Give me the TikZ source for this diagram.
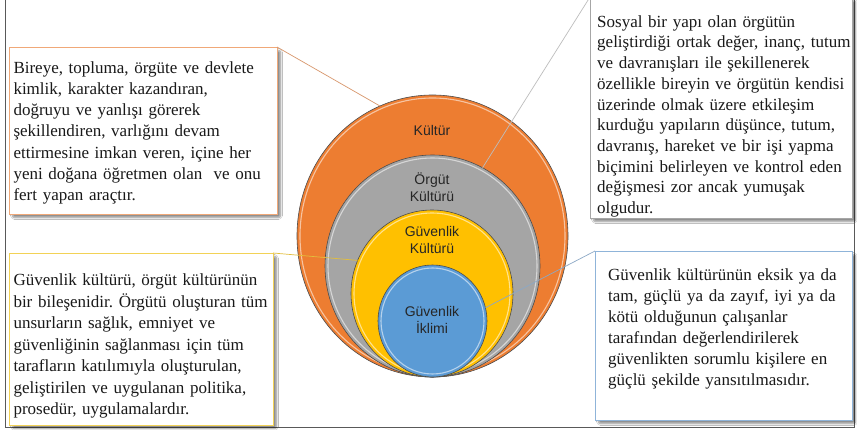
\documentclass[tikz,border=0pt]{standalone}
\usepackage{fontspec}
\setmainfont{Liberation Serif}
\newfontfamily\labelfont{Liberation Sans}
\usetikzlibrary{shapes.geometric,shadows.blur}

\definecolor{ringOrange}{HTML}{ED7D31}
\definecolor{ringGray}{HTML}{A5A5A5}
\definecolor{ringYellow}{HTML}{FFC000}
\definecolor{ringBlue}{HTML}{5B9BD5}
\definecolor{edgeOrange}{HTML}{F0A878}
\definecolor{edgeGray}{HTML}{A6A6A6}
\definecolor{edgeYellow}{HTML}{F2D256}
\definecolor{edgeBlue}{HTML}{8FB4D9}
\definecolor{leadOrange}{HTML}{D8976C}
\definecolor{leadGray}{HTML}{BDBDBD}
\definecolor{leadYellow}{HTML}{E3BE3C}
\definecolor{leadBlue}{HTML}{8CA8C6}
\definecolor{frameGray}{HTML}{595959}
\definecolor{labelInk}{HTML}{262626}

\frenchspacing

\tikzset{
  ring/.style={ellipse, inner sep=0pt, outer sep=0pt, draw=black!70, line width=0.6pt},
  bevel/.style={draw=white, opacity=0.55, line width=1.1pt},
  ringlabel/.style={align=center, text=labelInk, inner sep=0pt,
    font=\labelfont\fontsize{14}{16.5}\selectfont},
  callout/.style={rectangle, fill=white, line width=0.8pt, inner sep=0pt, outer sep=0pt,
    anchor=north west,
    blur shadow={shadow xshift=3.5pt, shadow yshift=-3.5pt, shadow blur steps=8,
      shadow blur extra rounding=2pt, shadow opacity=45}},
  bodytext/.style={anchor=base west, inner sep=0pt, text=black!90, align=left,
    text width=300pt, font=\rmfamily\fontsize{17}{#1}\selectfont},
  leader/.style={line width=0.7pt},
  frame/.style={draw=frameGray, line width=1pt}
}

\begin{document}
\begin{tikzpicture}[x=1pt,y=-1pt]
\useasboundingbox (0,0) rectangle (857,430);
\fill[white] (0,0) rectangle (857,430);

% outer frame (left, bottom, right)
\draw[frame] (5,0) -- (5,427) -- (854,427) -- (854,0);

% text boxes
\node[callout, draw=edgeOrange, minimum width=268pt, minimum height=167pt] (boxKultur) at (9,47) {};
\node[callout, draw=edgeGray, minimum width=262pt, minimum height=221pt] (boxOrgut) at (590,-3) {};
\node[callout, draw=edgeYellow, minimum width=264pt, minimum height=172pt] (boxGuvenlik) at (9,253) {};
\node[callout, draw=edgeBlue, minimum width=257pt, minimum height=169pt] (boxIklim) at (595,251) {};

\node[bodytext=21.2] (txtKultur) at (13.3,73.3) {%
Bireye, topluma, örgüte ve devlete\\
kimlik, karakter kazandıran,\\
doğruyu ve yanlışı görerek\\
şekillendiren, varlığını devam\\
ettirmesine imkan veren, içine her\\
yeni doğana öğretmen olan~ ve onu\\
fert yapan araçtır.};

\node[bodytext=20.7] (txtOrgut) at (597,27.3) {%
Sosyal bir yapı olan örgütün\\
geliştirdiği ortak değer, inanç, tutum\\
ve davranışları ile şekillenerek\\
özellikle bireyin ve örgütün kendisi\\
üzerinde olmak üzere etkileşim\\
kurduğu yapıların düşünce, tutum,\\
davranış, hareket ve bir işi yapma\\
biçimini belirleyen ve kontrol eden\\
değişmesi zor ancak yumuşak\\
olgudur.};

\node[bodytext=21.5] (txtGuvenlik) at (13.3,286) {%
Güvenlik kültürü, örgüt kültürünün\\
bir bileşenidir. Örgütü oluşturan tüm\\
unsurların sağlık, emniyet ve\\
güvenliğinin sağlanması için tüm\\
tarafların katılımıyla oluşturulan,\\
geliştirilen ve uygulanan politika,\\
prosedür, uygulamalardır.};

\node[bodytext=20.9] (txtIklim) at (608,280.7) {%
Güvenlik kültürünün eksik ya da\\
tam, güçlü ya da zayıf, iyi ya da\\
kötü olduğunun çalışanlar\\
tarafından değerlendirilerek\\
güvenlikten sorumlu kişilere en\\
güçlü şekilde yansıtılmasıdır.};

% nested circles, all touching at the bottom
\node[ring, fill=ringOrange, minimum width=271pt, minimum height=282pt] (kultur) at (432.5,236) {};
\draw[bevel] (kultur.center) ellipse [x radius=132.5, y radius=138];
\node[ring, fill=ringGray, minimum width=215pt, minimum height=222pt] (orgut) at (432.5,266) {};
\draw[bevel] (orgut.center) ellipse [x radius=104.5, y radius=108];
\node[ring, fill=ringYellow, minimum width=162pt, minimum height=167pt] (guvkultur) at (432,293.5) {};
\draw[bevel] (guvkultur.center) ellipse [x radius=78, y radius=80.5];
\node[ring, fill=ringBlue, minimum width=109pt, minimum height=112pt] (iklim) at (432.5,321) {};
\draw[bevel] (iklim.center) ellipse [x radius=51.5, y radius=53];

\node[ringlabel] (lblKultur) at (432,130) {Kültür};
\node[ringlabel] (lblOrgut) at (432,187) {Örgüt\\Kültürü};
\node[ringlabel] (lblGuvenlik) at (432,240) {Güvenlik\\Kültürü};
\node[ringlabel] (lblIklim) at (432,320) {Güvenlik\\İklimi};

% leader lines from the boxes to their circles
\draw[leader, leadOrange] (boxKultur.north east) -- (kultur.112.5);
\draw[leader, leadGray] (boxOrgut.north west) -- (orgut.63);
\draw[leader, leadYellow] (boxGuvenlik.north east) -- (guvkultur.156.5);
\draw[leader, leadBlue] (boxIklim.north west) -- (iklim.14.4);
\end{tikzpicture}
\end{document}
